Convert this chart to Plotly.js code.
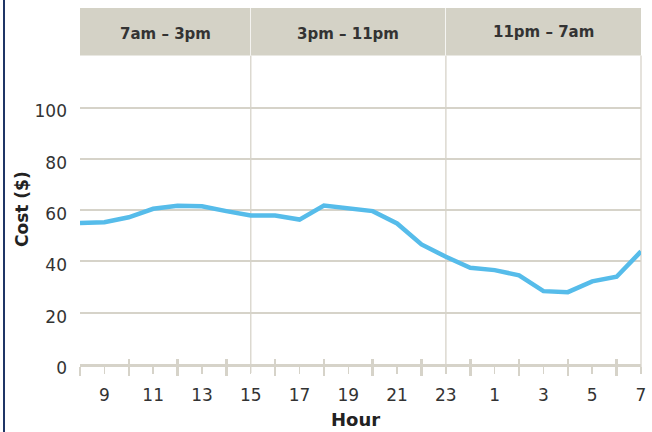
<!DOCTYPE html>
<html>
<head>
<meta charset="utf-8">
<script src="https://cdn.plot.ly/plotly-3.0.1.min.js"></script>
<style>html,body{margin:0;padding:0;background:#fff;}#chart{width:652px;height:432px;}</style>
</head>
<body>
<div id="chart"></div>
<script>
// Data
var hours = [8, 9, 10, 11, 12, 13, 14, 15, 16, 17, 18, 19, 20, 21, 22, 23, 0, 1, 2, 3, 4, 5, 6, 7];
var cost = [55.0, 55.3, 57.2, 60.5, 61.7, 61.5, 59.6, 57.9, 57.9, 56.3, 61.8, 60.6, 59.6, 54.8, 46.6, 41.8, 37.5, 36.6, 34.6, 28.4, 28.0, 32.2, 34.0, 43.9];
var yTicks = [0, 20, 40, 60, 80, 100];
var shiftLabels = ["7am \u2013 3pm", "3pm \u2013 11pm", "11pm \u2013 7am"];
var shiftStartHour = [8, 15, 23];
var shiftEndHour = [15, 23, 7];

var idx = hours.map(function (h, i) { return i; });
function hourIndex(h, from) { for (var i = from || 0; i < hours.length; i++) { if (hours[i] === h) return i; } return -1; }

var labelIdx = [], labelText = [], minorIdx = [];
hours.forEach(function (h, i) {
  if (h % 2 === 1) { labelIdx.push(i); labelText.push(String(h)); } else { minorIdx.push(i); }
});

var W = 652, H = 432, mL = 80, mR = 11, mT = 55, mB = 68;
var pw = W - mL - mR, ph = H - mT - mB;
var xr = [0, hours.length - 1];
function px2paperX(p) { return (p - mL) / pw; }
function px2paperY(p) { return (H - mB - p) / ph; }
function idx2paper(i) { return (i - xr[0]) / (xr[1] - xr[0]); }

var gridCol = '#d6d3c9', bandCol = '#d4d2c6', textCol = '#333333';
var font = 'DejaVu Sans, Verdana, sans-serif';

var shapes = [];
var annotations = [];
var bandTop = px2paperY(8), bandBot = px2paperY(55.5);
var prevEnd = 0;
for (var k = 0; k < shiftLabels.length; k++) {
  var s = hourIndex(shiftStartHour[k], prevEnd);
  var e = hourIndex(shiftEndHour[k], s + 1);
  prevEnd = e;
  shapes.push({type: 'rect', xref: 'paper', yref: 'paper', x0: idx2paper(s), x1: idx2paper(e),
    y0: bandBot, y1: bandTop, fillcolor: bandCol, line: {width: 0}, layer: 'below'});
  shapes.push({type: 'line', xref: 'paper', yref: 'paper', x0: idx2paper(e), x1: idx2paper(e),
    y0: px2paperY(373), y1: bandBot, line: {color: '#dcd9d0', width: 1.5}, layer: 'below'});
  if (k < shiftLabels.length - 1) {
    shapes.push({type: 'line', xref: 'paper', yref: 'paper', x0: idx2paper(e), x1: idx2paper(e),
      y0: bandBot, y1: bandTop, line: {color: '#ffffff', width: 1.5}, layer: 'below'});
  }
  annotations.push({xref: 'paper', yref: 'paper', x: (idx2paper(s) + idx2paper(e)) / 2,
    y: px2paperY(k === 2 ? 32 : 34), text: shiftLabels[k], showarrow: false,
    xanchor: 'center', yanchor: 'middle',
    font: {family: font, size: 15, color: textCol, weight: 'bold'}});
}
// left frame border
shapes.push({type: 'line', xref: 'paper', yref: 'paper', x0: px2paperX(4), x1: px2paperX(4),
  y0: px2paperY(H), y1: px2paperY(0), line: {color: '#1f3566', width: 2}});

annotations.push({xref: 'paper', yref: 'paper', x: px2paperX(22), y: px2paperY(209), text: 'Cost ($)',
  textangle: -90, showarrow: false, xanchor: 'center', yanchor: 'middle',
  font: {family: font, size: 17, color: '#222', weight: 'bold'}});
annotations.push({xref: 'paper', yref: 'paper', x: px2paperX(355), y: px2paperY(432), text: 'Hour',
  showarrow: false, xanchor: 'center', yanchor: 'bottom',
  font: {family: font, size: 18, color: '#222', weight: 'bold'}});

var data = [
  {x: idx, y: cost, type: 'scatter', mode: 'lines', line: {color: '#56bcea', width: 4.5},
   hoverinfo: 'skip', showlegend: false},
  {x: idx, y: cost, type: 'scatter', mode: 'lines', xaxis: 'x2', line: {width: 0, color: 'rgba(0,0,0,0)'},
   hoverinfo: 'skip', showlegend: false}
];

var layout = {
  width: W, height: H,
  margin: {l: mL, r: mR, t: mT, b: mB, pad: 0},
  paper_bgcolor: '#ffffff', plot_bgcolor: '#ffffff',
  font: {family: font, color: textCol},
  showlegend: false,
  xaxis: {
    range: xr, tickmode: 'array', tickvals: labelIdx, ticktext: labelText,
    showgrid: false, zeroline: false, showline: true, linecolor: gridCol, linewidth: 2.5,
    ticks: 'outside', ticklen: 7, tickwidth: 1.5, tickcolor: gridCol,
    tickfont: {family: font, size: 17, color: textCol}, ticklabelstandoff: 7,
    minor: {tickmode: 'array', tickvals: minorIdx, ticks: 'outside', ticklen: 9, tickwidth: 2.5, tickcolor: gridCol, showgrid: false},
    fixedrange: true
  },
  xaxis2: {
    overlaying: 'x', anchor: 'y', side: 'bottom', range: xr,
    tickmode: 'array', tickvals: minorIdx, ticks: 'inside', ticklen: 5, tickwidth: 2.5, tickcolor: gridCol,
    showticklabels: false, showgrid: false, zeroline: false, showline: false
  },
  yaxis: {
    range: [0, (ph) / 2.565], tickmode: 'array', tickvals: yTicks, ticktext: yTicks.map(String),
    showgrid: true, gridcolor: gridCol, gridwidth: 2, zeroline: false, showline: false, ticks: '',
    tickfont: {family: font, size: 17, color: textCol}, ticklabelshift: 4, ticklabelstandoff: 12,
    fixedrange: true
  },
  shapes: shapes,
  annotations: annotations
};

Plotly.newPlot('chart', data, layout, {displayModeBar: false, staticPlot: true});
</script>
</body>
</html>
